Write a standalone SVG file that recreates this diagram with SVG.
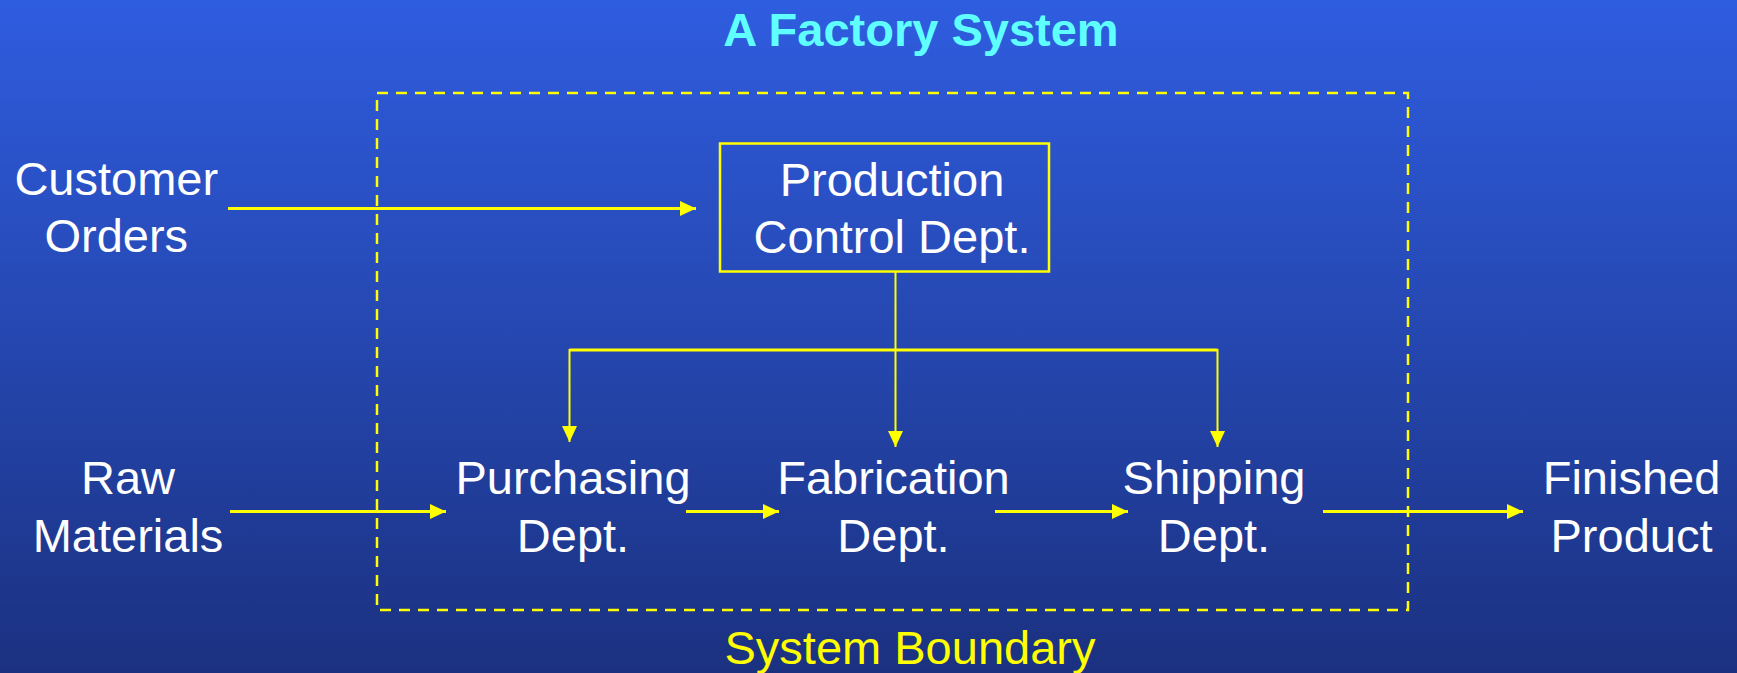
<svg xmlns="http://www.w3.org/2000/svg" width="1737" height="673" viewBox="0 0 1737 673">
  <defs>
    <linearGradient id="bg" x1="0" y1="0" x2="0" y2="1">
      <stop offset="0" stop-color="#2F5DE0"/>
      <stop offset="0.5" stop-color="#2547B0"/>
      <stop offset="1" stop-color="#1B3180"/>
    </linearGradient>
    <marker id="arrow" viewBox="0 0 16 16" refX="16" refY="8" markerWidth="16" markerHeight="16" markerUnits="userSpaceOnUse" orient="auto">
      <path d="M0,0.5 L16,8 L0,15.5 Z" fill="#FFFF00"/>
    </marker>
  </defs>
  <style>
    .lbl { font-family: "Liberation Sans", Arial, sans-serif; font-size: 47px; fill: #FFFFFF; text-anchor: middle; }
    .title { font-family: "Liberation Sans", Arial, sans-serif; font-size: 47px; font-weight: bold; fill: #5FFFFF; text-anchor: middle; }
    .boundary-label { font-family: "Liberation Sans", Arial, sans-serif; font-size: 47px; fill: #FFFF00; text-anchor: middle; }
    .flow { stroke: #FFFF00; stroke-width: 3; fill: none; }
    .drop { stroke: #FFFF00; stroke-width: 2; fill: none; }
    .box { stroke: #FFFF00; stroke-width: 2.5; fill: none; }
    .dashed { stroke: #FFFF00; stroke-width: 2.5; fill: none; stroke-dasharray: 11 8; }
  </style>

  <rect x="0" y="0" width="1737" height="673" fill="url(#bg)"/>

  <text class="title" x="921" y="46">A Factory System</text>

  <!-- system boundary -->
  <g id="boundary">
    <rect class="dashed" x="377" y="93" width="1031" height="517"/>
    <text class="boundary-label" x="910" y="664">System Boundary</text>
  </g>

  <!-- connectors -->
  <g id="connectors">
    <line class="flow" x1="228" y1="208.5" x2="696" y2="208.5" marker-end="url(#arrow)"/>
    <line class="drop" x1="895.5" y1="272" x2="895.5" y2="447" marker-end="url(#arrow)"/>
    <line class="flow" x1="569.5" y1="350" x2="1217.5" y2="350"/>
    <line class="drop" x1="569.5" y1="349" x2="569.5" y2="442" marker-end="url(#arrow)"/>
    <line class="drop" x1="1217.5" y1="349" x2="1217.5" y2="447" marker-end="url(#arrow)"/>
    <line class="flow" x1="230" y1="511.5" x2="446" y2="511.5" marker-end="url(#arrow)"/>
    <line class="flow" x1="686" y1="511.5" x2="779" y2="511.5" marker-end="url(#arrow)"/>
    <line class="flow" x1="995" y1="511.5" x2="1128" y2="511.5" marker-end="url(#arrow)"/>
    <line class="flow" x1="1323" y1="511.5" x2="1523" y2="511.5" marker-end="url(#arrow)"/>
  </g>

  <g id="customer-orders">
    <text class="lbl" x="116.3" y="195">Customer</text>
    <text class="lbl" x="116.3" y="252">Orders</text>
  </g>

  <g id="production-control">
    <rect class="box" x="720" y="143.5" width="329" height="128"/>
    <text class="lbl" x="892" y="196">Production</text>
    <text class="lbl" x="892" y="253">Control Dept.</text>
  </g>

  <g id="raw-materials">
    <text class="lbl" x="128" y="494">Raw</text>
    <text class="lbl" x="128" y="551.5">Materials</text>
  </g>

  <g id="purchasing">
    <text class="lbl" x="573" y="494">Purchasing</text>
    <text class="lbl" x="573" y="551.5">Dept.</text>
  </g>

  <g id="fabrication">
    <text class="lbl" x="893.5" y="494">Fabrication</text>
    <text class="lbl" x="893.5" y="551.5">Dept.</text>
  </g>

  <g id="shipping">
    <text class="lbl" x="1214" y="494">Shipping</text>
    <text class="lbl" x="1214" y="551.5">Dept.</text>
  </g>

  <g id="finished-product">
    <text class="lbl" x="1631.5" y="494">Finished</text>
    <text class="lbl" x="1631.5" y="551.5">Product</text>
  </g>
</svg>
